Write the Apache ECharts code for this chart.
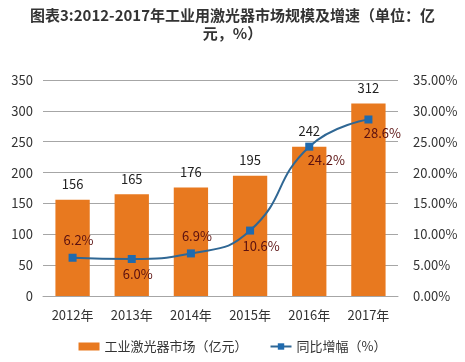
<!DOCTYPE html>
<html><head><meta charset="utf-8">
<script src="https://cdn.jsdelivr.net/npm/echarts@6/dist/echarts.min.js"></script>
<style>html,body{margin:0;padding:0;background:#fff}#c{width:465px;height:362px}</style>
</head><body><div id="c"></div>
<script>
const categories = ['2012年','2013年','2014年','2015年','2016年','2017年'];
const marketSize = [156, 165, 176, 195, 242, 312];
const growthRate = [6.2, 6.0, 6.9, 10.6, 24.2, 28.6];
const leftTicks = [0, 350, 50];
const rightTicks = [0, 35, 5];

const FONT = '"Noto Sans CJK SC", "Microsoft YaHei", sans-serif';
const labelPos = [
  {position:'top', offset:[6,-2]},
  {position:'bottom', offset:[6,0]},
  {position:'top', offset:[6,-2]},
  {position:'bottom', offset:[11,0]},
  {position:'bottom', offset:[17,-2]},
  {position:'bottom', offset:[14,-2]}
];
const lineData = growthRate.map((v,i)=>({value:v, label:labelPos[i]}));

const chart = echarts.init(document.getElementById('c'));
chart.setOption({
  animation:false,
  backgroundColor:'#fff',
  title:{
    text:'图表3:2012-2017年工业用激光器市场规模及增速（单位：亿\n元，%）',
    left:'center', top:1,
    textStyle:{fontFamily:FONT, fontSize:15, fontWeight:'bold', color:'#333', lineHeight:18}
  },
  grid:{left:43, right:67, top:80, bottom:66},
  legend:{
    bottom:4, left:'center', itemGap:22,
    textStyle:{fontFamily:FONT, fontSize:13, color:'#333'},
    data:[
      {name:'工业激光器市场（亿元）', icon:'rect', itemStyle:{color:'#E8791F'}},
      {name:'同比增幅（%）'}
    ],
    itemWidth:21, itemHeight:8
  },
  xAxis:{
    type:'category', data:categories,
    axisLine:{show:true, lineStyle:{color:'#a6a6a6'}}, axisTick:{show:false},
    axisLabel:{fontFamily:FONT, fontSize:13, color:'#333', margin:13}
  },
  yAxis:[
    {type:'value', min:leftTicks[0], max:leftTicks[1], interval:leftTicks[2],
     axisLine:{show:false}, axisTick:{show:false},
     splitLine:{lineStyle:{color:'#a6a6a6'}},
     axisLabel:{fontFamily:FONT, fontSize:13, color:'#333', margin:10}},
    {type:'value', min:rightTicks[0], max:rightTicks[1], interval:rightTicks[2],
     axisLine:{show:false}, axisTick:{show:false}, splitLine:{show:false},
     axisLabel:{fontFamily:FONT, fontSize:13, color:'#333', margin:15,
       formatter:v=>v.toFixed(2)+'%'}}
  ],
  series:[
    {name:'工业激光器市场（亿元）', type:'bar', data:marketSize, barWidth:'58%',
     itemStyle:{color:'#E8791F'},
     label:{show:true, position:'top', distance:9, fontFamily:FONT, fontSize:13, color:'#222'}},
    {name:'同比增幅（%）', type:'line', yAxisIndex:1, data:lineData, smooth:0.5,
     symbol:'rect', symbolSize:8,
     lineStyle:{color:'#2F6794', width:2},
     itemStyle:{color:'#1F6AAE'},
     label:{show:true, fontFamily:FONT, fontSize:13, color:'#5A1010', formatter:p=>p.value.toFixed(1)+'%'}}
  ]
});
</script></body></html>
